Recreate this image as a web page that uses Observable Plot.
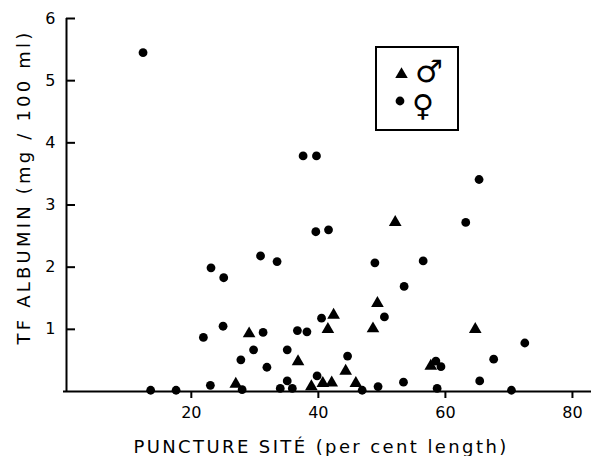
<!DOCTYPE html>
<html><head><meta charset="utf-8">
<script src="https://cdn.jsdelivr.net/npm/d3@7"></script>
<script src="https://cdn.jsdelivr.net/npm/@observablehq/plot@0.6"></script>
<style>
body{margin:0;background:#fff;}
#wrap{position:relative;width:591px;height:456px;overflow:hidden;}
#legend{position:absolute;left:0;top:0;pointer-events:none;}
</style></head><body><div id="wrap"></div>
<script>
// Female (circles)
const femaleX = [12.4, 37.6, 39.7, 39.6, 41.6, 30.9, 33.5, 23.1, 25.1, 25.0, 21.9, 27.8, 13.6, 17.6, 23.0, 31.3, 36.7, 38.2, 40.5, 29.8, 35.1, 31.9, 44.6, 39.8, 35.1, 28.0, 34.0, 35.9, 65.3, 63.2, 48.9, 56.5, 53.5, 50.4, 72.5, 67.6, 58.5, 59.3, 46.9, 49.4, 53.4, 58.7, 65.4, 70.4];
const femaleY = [5.45, 3.79, 3.79, 2.57, 2.60, 2.18, 2.09, 1.99, 1.83, 1.05, 0.87, 0.51, 0.02, 0.02, 0.10, 0.95, 0.98, 0.96, 1.18, 0.67, 0.67, 0.39, 0.57, 0.25, 0.17, 0.03, 0.05, 0.05, 3.41, 2.72, 2.07, 2.10, 1.69, 1.20, 0.78, 0.52, 0.49, 0.40, 0.02, 0.08, 0.15, 0.05, 0.17, 0.02];
// Male (triangles)
const maleX = [29.1, 41.5, 42.4, 36.8, 44.3, 27.0, 38.9, 40.7, 42.1, 45.9, 52.1, 49.3, 48.6, 64.7, 57.7];
const maleY = [0.93, 1.00, 1.23, 0.48, 0.33, 0.12, 0.08, 0.13, 0.14, 0.13, 2.72, 1.42, 1.01, 1.00, 0.41];

const xTicks = [20, 40, 60, 80];
const yTicks = [1, 2, 3, 4, 5, 6];
const xDomain = [0.35, 83];
const yDomain = [0, 6];
const xLabel = "PUNCTURE SITÉ (per cent length)";
const yLabel = "TF ALBUMIN (mg / 100 ml)";
const legendSymbols = ["♂", "♀"];

const females = femaleX.map((x, i) => ({x, y: femaleY[i]}));
const males = maleX.map((x, i) => ({x, y: maleY[i]}));

const W = 591, ML = 66;
const chart = Plot.plot({
  width: W,
  height: 456,
  marginLeft: ML,
  marginRight: 0,
  marginTop: 18,
  marginBottom: 65,
  style: {fontFamily: "DejaVu Sans", fontSize: "16px", color: "black", background: "white"},
  x: {domain: xDomain},
  y: {domain: yDomain},
  marks: [
    Plot.axisX({ticks: xTicks, tickSize: 7, tickPadding: 8, strokeWidth: 2, label: null, fontSize: 16, tickFormat: d3.format("d")}),
    Plot.axisY({ticks: yTicks, tickSize: 0, tickPadding: 11, label: null, fontSize: 16, tickFormat: d3.format("d")}),
    Plot.tickY(yTicks, {y: d => d, insetRight: W - ML - 9, strokeWidth: 2}),
    Plot.ruleY([yDomain[0]], {strokeWidth: 2, insetLeft: -3}),
    Plot.ruleX([xDomain[0]], {strokeWidth: 2}),
    Plot.text([xLabel], {frameAnchor: "bottom", text: d => d, dx: -8, dy: 56, fontSize: 18, lineAnchor: "middle", textAnchor: "middle"}),
    Plot.text([yLabel], {frameAnchor: "left", text: d => d, rotate: -90, dx: -42, dy: -18, fontSize: 18, lineAnchor: "middle", textAnchor: "middle"}),
    Plot.dot(females, {x: "x", y: "y", r: 4.4, fill: "black", stroke: null}),
    Plot.dot(males, {x: "x", y: "y", symbol: "triangle", r: 4.7, fill: "black", stroke: null})
  ]
});
document.getElementById("wrap").appendChild(chart);
d3.select(chart).selectAll("text").filter(function(){ return this.textContent === xLabel; })
  .style("letter-spacing", "2.4px");
d3.select(chart).selectAll("text").filter(function(){ return this.textContent === yLabel; })
  .style("letter-spacing", "3.2px");

// Legend box
const lg = d3.select("#wrap").append("svg").attr("id", "legend").attr("width", 591).attr("height", 456);
lg.append("rect").attr("x", 376).attr("y", 47).attr("width", 82).attr("height", 83)
  .attr("fill", "none").attr("stroke", "black").attr("stroke-width", 2);
lg.append("path").attr("d", d3.symbol(d3.symbolTriangle, 68)()).attr("transform", "translate(401.5,74.5)").attr("fill", "black");
lg.append("circle").attr("cx", 400).attr("cy", 101).attr("r", 4.4).attr("fill", "black");
lg.append("text").text(legendSymbols[0]).attr("x", 429).attr("y", 71).attr("text-anchor", "middle")
  .attr("dominant-baseline", "central").attr("font-family", "DejaVu Sans").attr("font-size", 31);
lg.append("text").text(legendSymbols[1]).attr("x", 423).attr("y", 105).attr("text-anchor", "middle")
  .attr("dominant-baseline", "central").attr("font-family", "DejaVu Sans").attr("font-size", 30);
</script>
</body></html>
